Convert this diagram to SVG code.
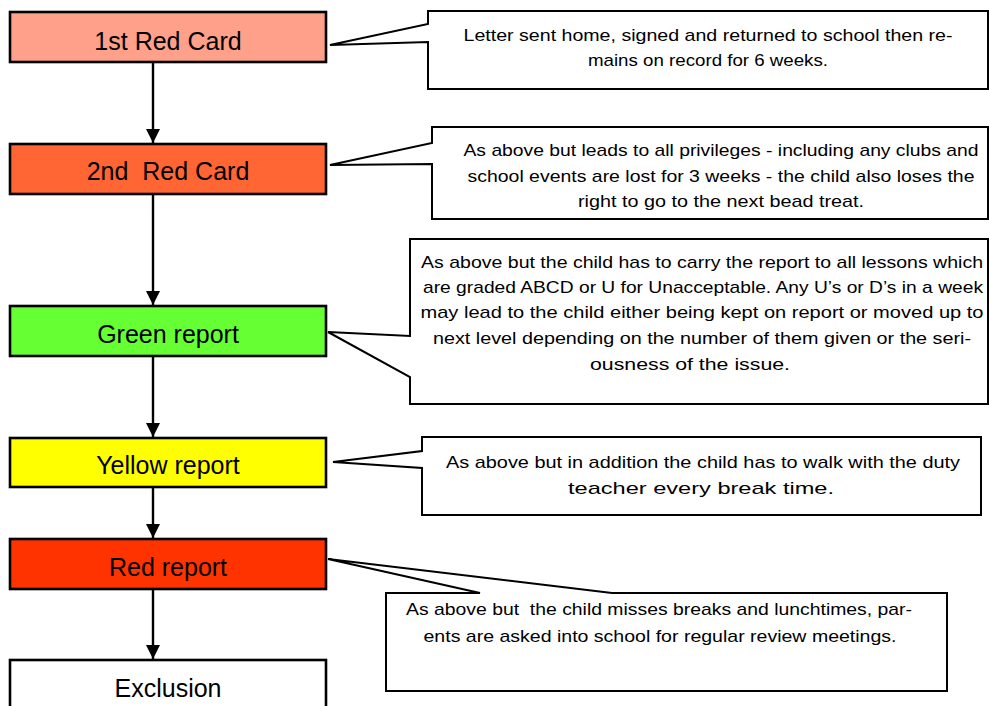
<svg xmlns="http://www.w3.org/2000/svg" width="989" height="706" viewBox="0 0 989 706">
<defs>
<style>
.box{stroke:#000;stroke-width:2.6}
.lbl{font-family:"Liberation Sans",Arial,sans-serif;font-size:25px;fill:#000;text-anchor:middle}
.co{fill:#fff;stroke:#000;stroke-width:2;stroke-linejoin:miter}
.ct{font-family:"Liberation Sans",Arial,sans-serif;font-size:17px;fill:#000;text-anchor:middle}
.arr{stroke:#000;stroke-width:2.4;fill:none}
</style>
<marker id="ah" viewBox="0 0 10 10" refX="10" refY="5" markerWidth="6" markerHeight="6" markerUnits="strokeWidth" orient="auto">
<path d="M0,0 L10,5 L0,10 Z" fill="#000"/>
</marker>
</defs>
<rect width="989" height="706" fill="#fff"/>

<g id="connectors">
<line class="arr" x1="153" y1="62" x2="153" y2="143" marker-end="url(#ah)"/>
<line class="arr" x1="153" y1="194" x2="153" y2="305" marker-end="url(#ah)"/>
<line class="arr" x1="153" y1="356" x2="153" y2="437" marker-end="url(#ah)"/>
<line class="arr" x1="153" y1="487" x2="153" y2="538" marker-end="url(#ah)"/>
<line class="arr" x1="153" y1="589" x2="153" y2="659" marker-end="url(#ah)"/>
</g>

<g id="callout1">
<path class="co" d="M428,11 H988 V89 H428 V42 L330,45 L428,24 Z"/>
<text class="ct" x="708" y="41" textLength="489" lengthAdjust="spacingAndGlyphs">Letter sent home, signed and returned to school then re-</text>
<text class="ct" x="708" y="66" textLength="240" lengthAdjust="spacingAndGlyphs">mains on record for 6 weeks.</text>
</g>

<g id="callout2">
<path class="co" d="M432,127 H988 V219 H432 V164 L330,165 L432,143 Z"/>
<text class="ct" x="721" y="156" textLength="515" lengthAdjust="spacingAndGlyphs">As above but leads to all privileges - including any clubs and</text>
<text class="ct" x="721" y="182" textLength="507" lengthAdjust="spacingAndGlyphs">school events are lost for 3 weeks - the child also loses the</text>
<text class="ct" x="721" y="207" textLength="286" lengthAdjust="spacingAndGlyphs">right to go to the next bead treat.</text>
</g>

<g id="callout3">
<path class="co" d="M410,239 H988 V404 H410 V377 L328,332 L410,336 Z"/>
<text class="ct" x="702" y="268" textLength="562" lengthAdjust="spacingAndGlyphs">As above but the child has to carry the report to all lessons which</text>
<text class="ct" x="703" y="293" textLength="560" lengthAdjust="spacingAndGlyphs">are graded ABCD or U for Unacceptable. Any U’s or D’s in a week</text>
<text class="ct" x="702" y="318" textLength="563" lengthAdjust="spacingAndGlyphs">may lead to the child either being kept on report or moved up to</text>
<text class="ct" x="702" y="344" textLength="538" lengthAdjust="spacingAndGlyphs">next level depending on the number of them given or the seri-</text>
<text class="ct" x="690" y="370" textLength="200" lengthAdjust="spacingAndGlyphs">ousness of the issue.</text>
</g>

<g id="callout4">
<path class="co" d="M422,437 H981 V515 H422 V468 L333,462 L422,451 Z"/>
<text class="ct" x="703" y="468" textLength="514" lengthAdjust="spacingAndGlyphs">As above but in addition the child has to walk with the duty</text>
<text class="ct" x="701" y="494" textLength="266" lengthAdjust="spacingAndGlyphs">teacher every break time.</text>
</g>

<g id="callout5">
<path class="co" d="M386,593 H480 L328,559 L612,593 H947 V691 H386 Z"/>
<text class="ct" x="659" y="615" textLength="506" lengthAdjust="spacingAndGlyphs" xml:space="preserve">As above but  the child misses breaks and lunchtimes, par-</text>
<text class="ct" x="660" y="642" textLength="473" lengthAdjust="spacingAndGlyphs">ents are asked into school for regular review meetings.</text>
</g>

<g id="node1">
<rect class="box" x="10" y="12" width="316" height="50" fill="#FFA08A"/>
<text class="lbl" x="168" y="50">1st Red Card</text>
</g>
<g id="node2">
<rect class="box" x="10" y="144" width="316" height="50" fill="#FF6633"/>
<text class="lbl" x="168" y="180" xml:space="preserve">2nd  Red Card</text>
</g>
<g id="node3">
<rect class="box" x="10" y="306" width="316" height="50" fill="#66FF33"/>
<text class="lbl" x="168" y="343">Green report</text>
</g>
<g id="node4">
<rect class="box" x="10" y="438" width="316" height="49" fill="#FFFF00"/>
<text class="lbl" x="168" y="474">Yellow report</text>
</g>
<g id="node5">
<rect class="box" x="10" y="539" width="316" height="50" fill="#FF3300"/>
<text class="lbl" x="168" y="576">Red report</text>
</g>
<g id="node6">
<rect class="box" x="10" y="660" width="316" height="60" fill="#FFFFFF"/>
<text class="lbl" x="168" y="697">Exclusion</text>
</g>
</svg>
